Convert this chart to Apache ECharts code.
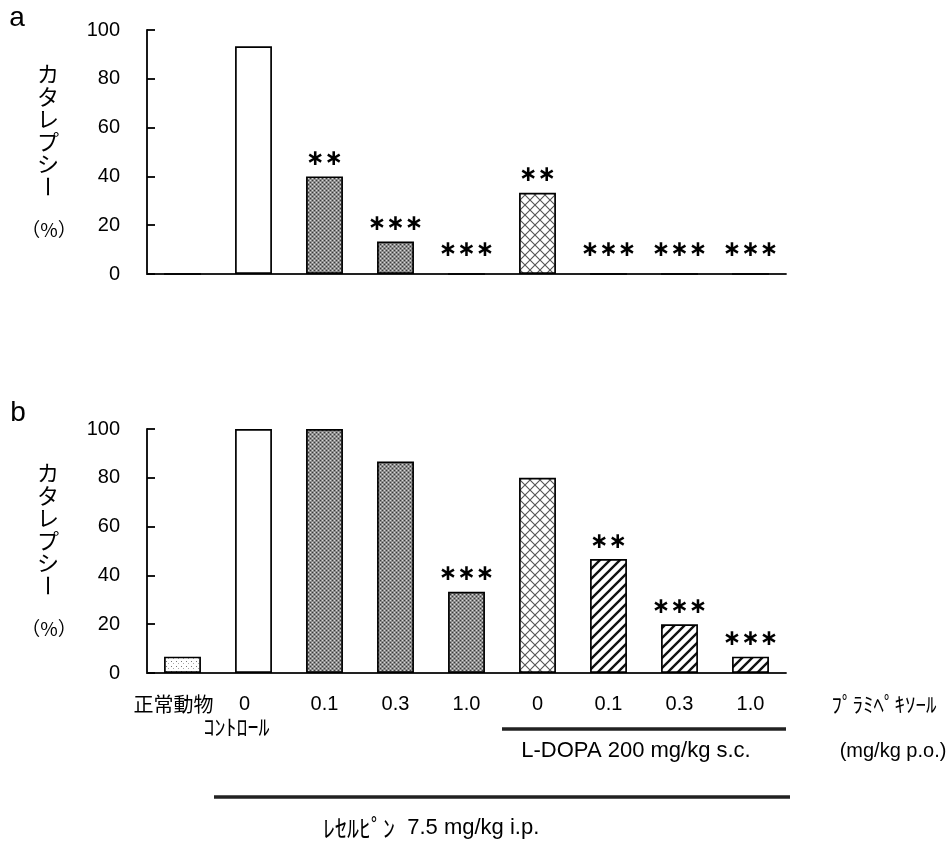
<!DOCTYPE html>
<html>
<head>
<meta charset="utf-8">
<script src="https://cdn.jsdelivr.net/npm/echarts@6/dist/echarts.min.js"></script>
<style>
  html, body { margin: 0; padding: 0; background: #fff; }
  #chart { width: 950px; height: 848px; }
</style>
</head>
<body>
<div id="chart"></div>
<script>
// Treatment groups (x categories) and catalepsy rates (%)
const categories = ['正常動物', '0', '0.1', '0.3', '1.0', '0', '0.1', '0.3', '1.0'];
const valuesA = [0, 93.3, 40, 13.3, 0, 33.3, 0, 0, 0];
const valuesB = [6.7, 100, 100, 86.7, 33.3, 80, 46.7, 20, 6.7];
// Significance marks over each group
const marksA = ['', '', '∗∗', '∗∗∗', '∗∗∗', '∗∗', '∗∗∗', '∗∗∗', '∗∗∗'];
const marksB = ['', '', '', '', '∗∗∗', '', '∗∗', '∗∗∗', '∗∗∗'];
// Fill style of each group
const fills = ['dots', 'white', 'gray', 'gray', 'gray', 'cross', 'stripe', 'stripe', 'stripe'];

// Hatch / dot fills drawn on small canvases
function tile(w, h, draw) {
  const c = document.createElement('canvas');
  c.width = w; c.height = h;
  const g = c.getContext('2d');
  draw(g, w, h);
  return { image: c, repeat: 'repeat' };
}
const patterns = {
  white: '#ffffff',
  gray: tile(4, 4, (g) => {
    g.fillStyle = '#8c8c8c'; g.fillRect(0, 0, 4, 4);
    g.fillStyle = '#3a3a3a'; g.fillRect(0, 0, 1, 1); g.fillRect(2, 2, 1, 1);
    g.fillStyle = '#d6d6d6'; g.fillRect(2, 0, 1, 1); g.fillRect(0, 2, 1, 1);
  }),
  dots: tile(5, 5, (g) => {
    g.fillStyle = '#ffffff'; g.fillRect(0, 0, 5, 5);
    g.fillStyle = '#777'; g.fillRect(1, 1, 1, 1);
    g.fillStyle = '#aaa'; g.fillRect(3, 3, 1, 1);
  }),
  cross: tile(10, 10, (g) => {
    g.fillStyle = '#ffffff'; g.fillRect(0, 0, 10, 10);
    g.strokeStyle = '#555'; g.lineWidth = 1.1;
    g.beginPath();
    g.moveTo(0, 0); g.lineTo(10, 10);
    g.moveTo(10, 0); g.lineTo(0, 10);
    g.stroke();
  }),
  stripe: tile(10, 10, (g) => {
    g.fillStyle = '#ffffff'; g.fillRect(0, 0, 10, 10);
    g.strokeStyle = '#111'; g.lineWidth = 2.4;
    g.beginPath();
    for (let k = -1; k <= 1; k++) {
      g.moveTo(-2 + k * 10, 12); g.lineTo(12 + k * 10, -2);
    }
    g.stroke();
  })
};

function barData(values, marks) {
  return values.map((v, i) => ({
    value: v,
    itemStyle: { color: patterns[fills[i]], borderColor: '#000', borderWidth: 1.7 },
    // marks over empty groups sit a little higher above the baseline
    label: { show: marks[i] !== '', formatter: marks[i], distance: v === 0 ? 12 : 6 }
  }));
}

const font = '"Liberation Sans", Arial, sans-serif';
const jp = '"Noto Sans CJK JP", sans-serif';

function yAxis(idx) {
  return {
    gridIndex: idx, type: 'value', min: 0, max: 100, interval: 20,
    axisLine: { show: true, lineStyle: { color: '#000', width: 1.8 } },
    axisTick: { show: true, inside: true, length: 8, lineStyle: { color: '#000', width: 1.8 } },
    splitLine: { show: false },
    axisLabel: { color: '#000', fontSize: 20, fontFamily: font, margin: 27 }
  };
}
function xAxis(idx, showLabels) {
  return {
    gridIndex: idx, type: 'category', data: categories,
    axisLine: { show: true, lineStyle: { color: '#222', width: 1.8 } },
    axisTick: { show: false },
    axisLabel: {
      show: showLabels, color: '#000', fontSize: 20, fontFamily: font, margin: 21,
      interval: 0,
      formatter: (v, i) => i === 0 ? '{jp|' + v + '}' : (i === 1 ? '{z|' + v + '}\n{s|ｺﾝﾄﾛｰﾙ}' : v),
      rich: {
        jp: { fontFamily: jp, fontSize: 20, color: '#000', padding: [0, 18, 0, 0] },
        z: { fontFamily: font, fontSize: 20, color: '#000', padding: [0, 18, 0, 0] },
        s: { fontFamily: jp, fontSize: 22, color: '#000', lineHeight: 26, padding: [0, 34, 0, 0] }
      }
    }
  };
}

// Vertical y-axis title built from single characters
function verticalTitle(x, yTop) {
  const chars = 'カタレプシー';
  const out = [];
  for (let i = 0; i < chars.length; i++) {
    const isBar = chars[i] === 'ー';
    out.push({
      type: 'text', x: x, y: yTop + i * 22.5 + 11,
      rotation: isBar ? -Math.PI / 2 : 0,
      style: { text: chars[i], font: '22px ' + jp, fill: '#000', align: 'center', verticalAlign: 'middle' }
    });
  }
  out.push({ type: 'text', x: x + 1, y: yTop + 167,
    style: { text: '（%）', font: '19px ' + jp, fill: '#000', align: 'center', verticalAlign: 'middle' } });
  return out;
}

const chart = echarts.init(document.getElementById('chart'), null, { renderer: 'canvas' });
const labelStyle = { position: 'top', color: '#000', fontSize: 22, fontWeight: 'bold', fontFamily: '"DejaVu Sans", sans-serif' };

chart.setOption({
  animation: false,
  backgroundColor: '#fff',
  grid: [
    { left: 147, top: 30, width: 639, height: 244 },
    { left: 147, top: 429, width: 639, height: 244 }
  ],
  xAxis: [xAxis(0, false), xAxis(1, true)],
  yAxis: [yAxis(0), yAxis(1)],
  series: [
    { type: 'bar', xAxisIndex: 0, yAxisIndex: 0, barWidth: '52%', data: barData(valuesA, marksA), label: labelStyle },
    { type: 'bar', xAxisIndex: 1, yAxisIndex: 1, barWidth: '52%', data: barData(valuesB, marksB), label: labelStyle }
  ],
  graphic: [
    { type: 'text', x: 17, y: 18, style: { text: 'a', font: '28px ' + font, fill: '#000', align: 'center', verticalAlign: 'middle' } },
    { type: 'text', x: 18, y: 413, style: { text: 'b', font: '28px ' + font, fill: '#000', align: 'center', verticalAlign: 'middle' } },
    ...verticalTitle(48, 63),
    ...verticalTitle(48, 462),
    { type: 'text', x: 884, y: 704,
      style: { text: 'ﾌﾟﾗﾐﾍﾟｷｿｰﾙ', font: '21px ' + jp, fill: '#000', align: 'center', verticalAlign: 'middle' } },
    { type: 'line', shape: { x1: 502, y1: 729, x2: 786, y2: 729 }, style: { stroke: '#222', lineWidth: 3.5 } },
    { type: 'text', x: 636, y: 751,
      style: { text: 'L-DOPA 200 mg/kg s.c.', font: '22px ' + font, fill: '#000', align: 'center', verticalAlign: 'middle' } },
    { type: 'text', x: 893, y: 751,
      style: { text: '(mg/kg p.o.)', font: '20px ' + font, fill: '#000', align: 'center', verticalAlign: 'middle' } },
    { type: 'line', shape: { x1: 214, y1: 797, x2: 790, y2: 797 }, style: { stroke: '#222', lineWidth: 3.5 } },
    { type: 'text', x: 323, y: 828,
      style: { text: '{k|ﾚｾﾙﾋﾟﾝ}  7.5 mg/kg i.p.', font: '22px ' + font, fill: '#000', align: 'left', verticalAlign: 'middle',
        rich: { k: { font: '24px ' + jp, fill: '#000' } } } }
  ]
});
</script>
</body>
</html>
